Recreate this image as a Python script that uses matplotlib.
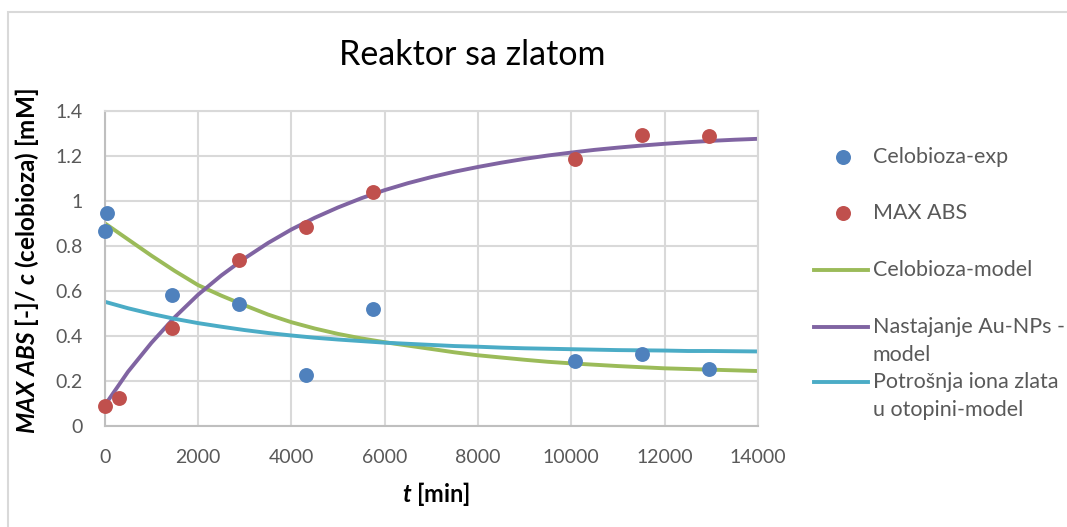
import matplotlib
matplotlib.use('Agg')
import matplotlib.pyplot as plt
from matplotlib.lines import Line2D
from matplotlib.patches import Rectangle

plt.rcParams['font.family'] = ['Lato', 'DejaVu Sans']
plt.rcParams['mathtext.fontset'] = 'custom'
plt.rcParams['mathtext.rm'] = 'Lato'
plt.rcParams['mathtext.it'] = 'Lato:italic'
plt.rcParams['mathtext.bf'] = 'Lato:bold'
plt.rcParams['mathtext.bfit'] = 'Lato:bold:italic'

# --- experimental points ---
t_cel = [0, 60, 1440, 2880, 4320, 5760, 10080, 11520, 12960]
cel_exp = [0.867, 0.947, 0.582, 0.542, 0.227, 0.518, 0.289, 0.317, 0.252]

t_abs = [0, 300, 1440, 2880, 4320, 5760, 10080, 11520, 12960]
max_abs = [0.088, 0.124, 0.435, 0.735, 0.885, 1.037, 1.184, 1.292, 1.288]

# --- model curves (every 500 min) ---
t_model = [0, 500, 1000, 1500, 2000, 2500, 3000, 3500, 4000, 4500, 5000,
           5500, 6000, 6500, 7000, 7500, 8000, 8500, 9000, 9500, 10000,
           10500, 11000, 11500, 12000, 12500, 13000, 13500, 14000]
cel_model = [0.900, 0.828, 0.756, 0.688, 0.625, 0.578, 0.535, 0.494, 0.460,
             0.432, 0.408, 0.388, 0.371, 0.356, 0.341, 0.326, 0.313, 0.303,
             0.293, 0.284, 0.277, 0.271, 0.265, 0.260, 0.255, 0.252, 0.249,
             0.246, 0.243]
au_model = [0.090, 0.240, 0.368, 0.482, 0.582, 0.668, 0.744, 0.812, 0.872,
            0.924, 0.970, 1.011, 1.047, 1.078, 1.105, 1.129, 1.150, 1.169,
            1.186, 1.201, 1.214, 1.226, 1.236, 1.245, 1.253, 1.260, 1.266,
            1.271, 1.275]
ion_model = [0.551, 0.522, 0.497, 0.475, 0.456, 0.440, 0.425, 0.412, 0.401,
             0.391, 0.383, 0.376, 0.369, 0.364, 0.359, 0.354, 0.351, 0.347,
             0.344, 0.342, 0.340, 0.338, 0.336, 0.335, 0.334, 0.332, 0.332,
             0.331, 0.330]

x_ticks = [0, 2000, 4000, 6000, 8000, 10000, 12000, 14000]
y_ticks = [0, 0.2, 0.4, 0.6, 0.8, 1, 1.2, 1.4]
y_ticklabels = ['0', '0.2', '0.4', '0.6', '0.8', '1', '1.2', '1.4']

c_blue, c_red = '#4f81bd', '#c0504d'
c_green, c_purple, c_cyan = '#9bbb59', '#8064a2', '#4bacc6'
grid_c = '#d9d9d9'
txt_c = '#595959'

W, H = 1067, 527
fig = plt.figure(figsize=(W / 100, H / 100), dpi=100)
ax = fig.add_axes([104.7 / W, 1 - 425.7 / H, 653.3 / W, 315 / H])

ax.plot(t_model, cel_model, color=c_green, lw=2.8, solid_capstyle='round')
ax.plot(t_model, au_model, color=c_purple, lw=2.8, solid_capstyle='round')
ax.plot(t_model, ion_model, color=c_cyan, lw=2.8, solid_capstyle='round')
ax.scatter(t_cel, cel_exp, s=115, color=c_blue, linewidths=0, zorder=3, clip_on=False)
ax.scatter(t_abs, max_abs, s=115, color=c_red, linewidths=0, zorder=3, clip_on=False)

ax.set_xlim(0, 14000)
ax.set_ylim(0, 1.4)
ax.set_xticks(x_ticks)
ax.set_yticks(y_ticks)
ax.set_yticklabels(y_ticklabels)
ax.grid(True, color=grid_c, lw=1.5)
ax.set_axisbelow(True)
for s in ax.spines.values():
    s.set_color(grid_c)
    s.set_linewidth(1.5)
ax.spines['left'].set_color('#bfbfbf')
ax.spines['bottom'].set_color('#bfbfbf')
ax.tick_params(length=0, labelsize=14, labelcolor=txt_c)
ax.tick_params(axis='x', pad=17)
ax.tick_params(axis='y', pad=16)

# title and axis labels
fig.text(472 / W, 1 - 55 / H, 'Reaktor sa zlatom', fontsize=24.5,
         ha='center', va='center', color='black')
fig.text(436 / W, 1 - 494 / H, r'$\mathbfit{t}$ [min]', fontsize=17,
         fontweight='bold', ha='center', va='center')
fig.text(27 / W, 1 - 261 / H, r'$\mathbfit{MAX\ ABS}$ [-]/ $\mathbfit{c}$ (celobioza) [mM]',
         fontsize=17.5, fontweight='bold', rotation=90, ha='center', va='center')

# legend drawn by hand so wrapped labels line up like the original
entries = [('marker', c_blue, ['Celobioza-exp'], 156.7),
           ('marker', c_red, ['MAX ABS'], 213.3),
           ('line', c_green, ['Celobioza-model'], 270),
           ('line', c_purple, ['Nastajanje Au-NPs -', 'model'], 326.7),
           ('line', c_cyan, ['Potrošnja iona zlata', 'u otopini-model'], 381.7)]
for kind, col, lines, py in entries:
    fy = 1 - py / H
    if kind == 'marker':
        fig.add_artist(Line2D([843 / W], [fy], marker='o', ms=10.8, color=col, mew=0, ls='none'))
    else:
        fig.add_artist(Line2D([814 / W, 868 / W], [fy, fy], color=col, lw=2.8))
    for i, s in enumerate(lines):
        fig.text(873 / W, 1 - (py + i * 28.3) / H, s, fontsize=15.5, color=txt_c,
                 ha='left', va='center')

# outer chart border
fig.add_artist(Rectangle((7.7 / W, -0.1), 1.2, 1 - 11.7 / H + 0.1, fill=False,
                         ec=grid_c, lw=1.5, transform=fig.transFigure))

fig.savefig('out.png', dpi=100)
